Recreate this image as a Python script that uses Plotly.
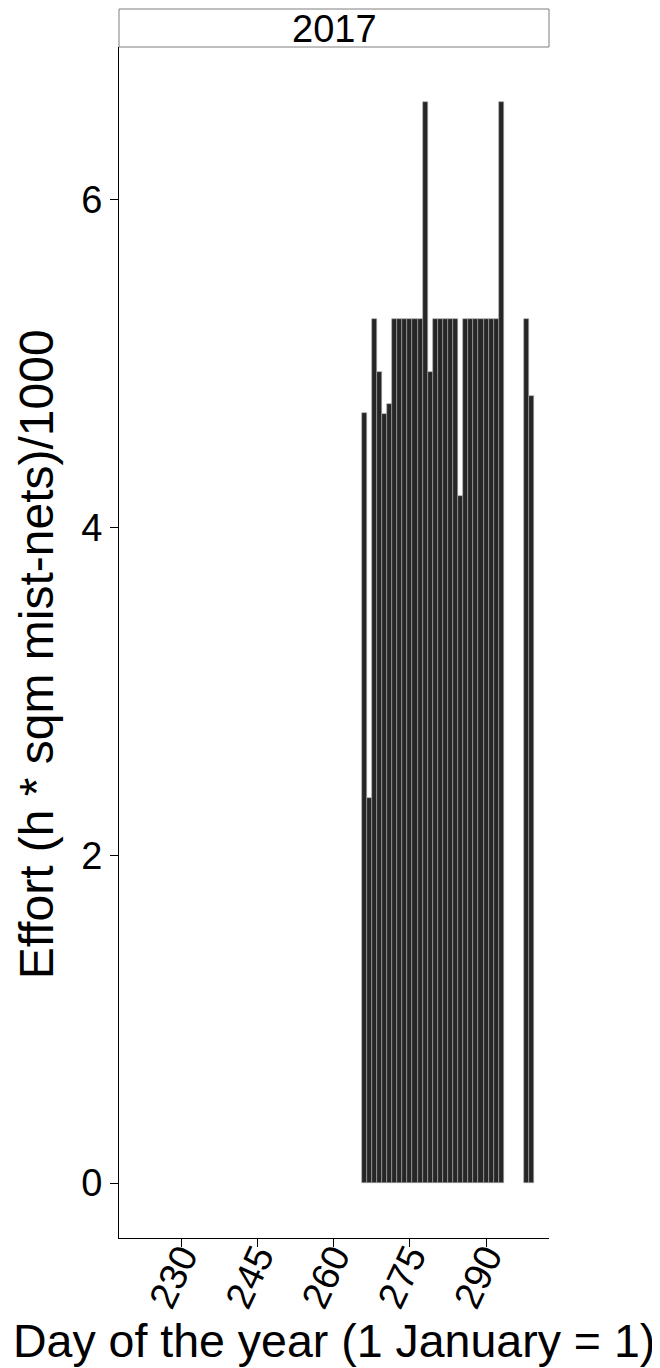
import plotly.graph_objects as go

days = [266, 267, 268, 269, 270, 271, 272, 273, 274, 275, 276, 277, 278, 279,
        280, 281, 282, 283, 284, 285, 286, 287, 288, 289, 290, 291, 292, 293,
        298, 299]
effort = [4.70, 2.35, 5.27, 4.945, 4.69, 4.755, 5.27, 5.27, 5.27, 5.27, 5.27, 5.27, 6.595, 4.945,
          5.27, 5.27, 5.27, 5.27, 5.27, 4.19, 5.27, 5.27, 5.27, 5.27, 5.27, 5.27, 5.27, 6.595,
          5.27, 4.80]
facet_label = "2017"
x_ticks = [230, 245, 260, 275, 290]
y_ticks = [0, 2, 4, 6]
x_title = "Day of the year (1 January = 1)"
y_title = "Effort (h * sqm mist-nets)/1000"

FONT = "Liberation Sans, Arial, sans-serif"

fig = go.Figure()
fig.add_trace(go.Bar(
    x=days, y=effort, width=1,
    marker=dict(color="#262626", line=dict(color="#a8a8a8", width=0.6)),
    showlegend=False,
))

fig.update_layout(
    width=660, height=1368,
    margin=dict(l=111, r=119, t=39, b=138),
    paper_bgcolor="white", plot_bgcolor="white",
    font=dict(family=FONT, color="black"),
    bargap=0,
    xaxis=dict(
        range=[217.7, 302.4], tickvals=x_ticks, ticktext=[str(v) for v in x_ticks],
        tickangle=-65, tickfont=dict(size=38, color="black"),
        ticks="outside", ticklen=8, tickwidth=1.2, tickcolor="black",
        ticklabelstandoff=-28,
        showline=True, linecolor="black", linewidth=1.2, showgrid=False, zeroline=False,
        automargin=False,
    ),
    yaxis=dict(
        range=[-0.335, 6.93], tickvals=y_ticks, ticktext=[str(v) for v in y_ticks],
        tickfont=dict(size=38, color="black"),
        ticks="outside", ticklen=8, tickwidth=1.2, tickcolor="black",
        showline=True, linecolor="black", linewidth=1.2, showgrid=False, zeroline=False,
        automargin=False,
    ),
    shapes=[dict(type="rect", xref="paper", yref="paper", x0=0, x1=1, y0=1.0, y1=1 + 38 / 1191,
                 line=dict(color="#7f7f7f", width=1), fillcolor="white", layer="above")],
    annotations=[
        dict(text=facet_label, xref="paper", yref="paper", x=0.5, y=1 + 18 / 1191,
             showarrow=False, font=dict(size=38, color="black"),
             xanchor="center", yanchor="middle"),
        dict(text=x_title, xref="paper", yref="paper", x=0.5, y=-0.0865,
             showarrow=False, font=dict(size=46.5, color="black"),
             xanchor="center", yanchor="middle"),
        dict(text=y_title, xref="paper", yref="paper", x=-0.1923, y=0.4903,
             showarrow=False, font=dict(size=48, color="black"), textangle=-90,
             xanchor="center", yanchor="middle"),
    ],
)

fig.write_html("out.html")
